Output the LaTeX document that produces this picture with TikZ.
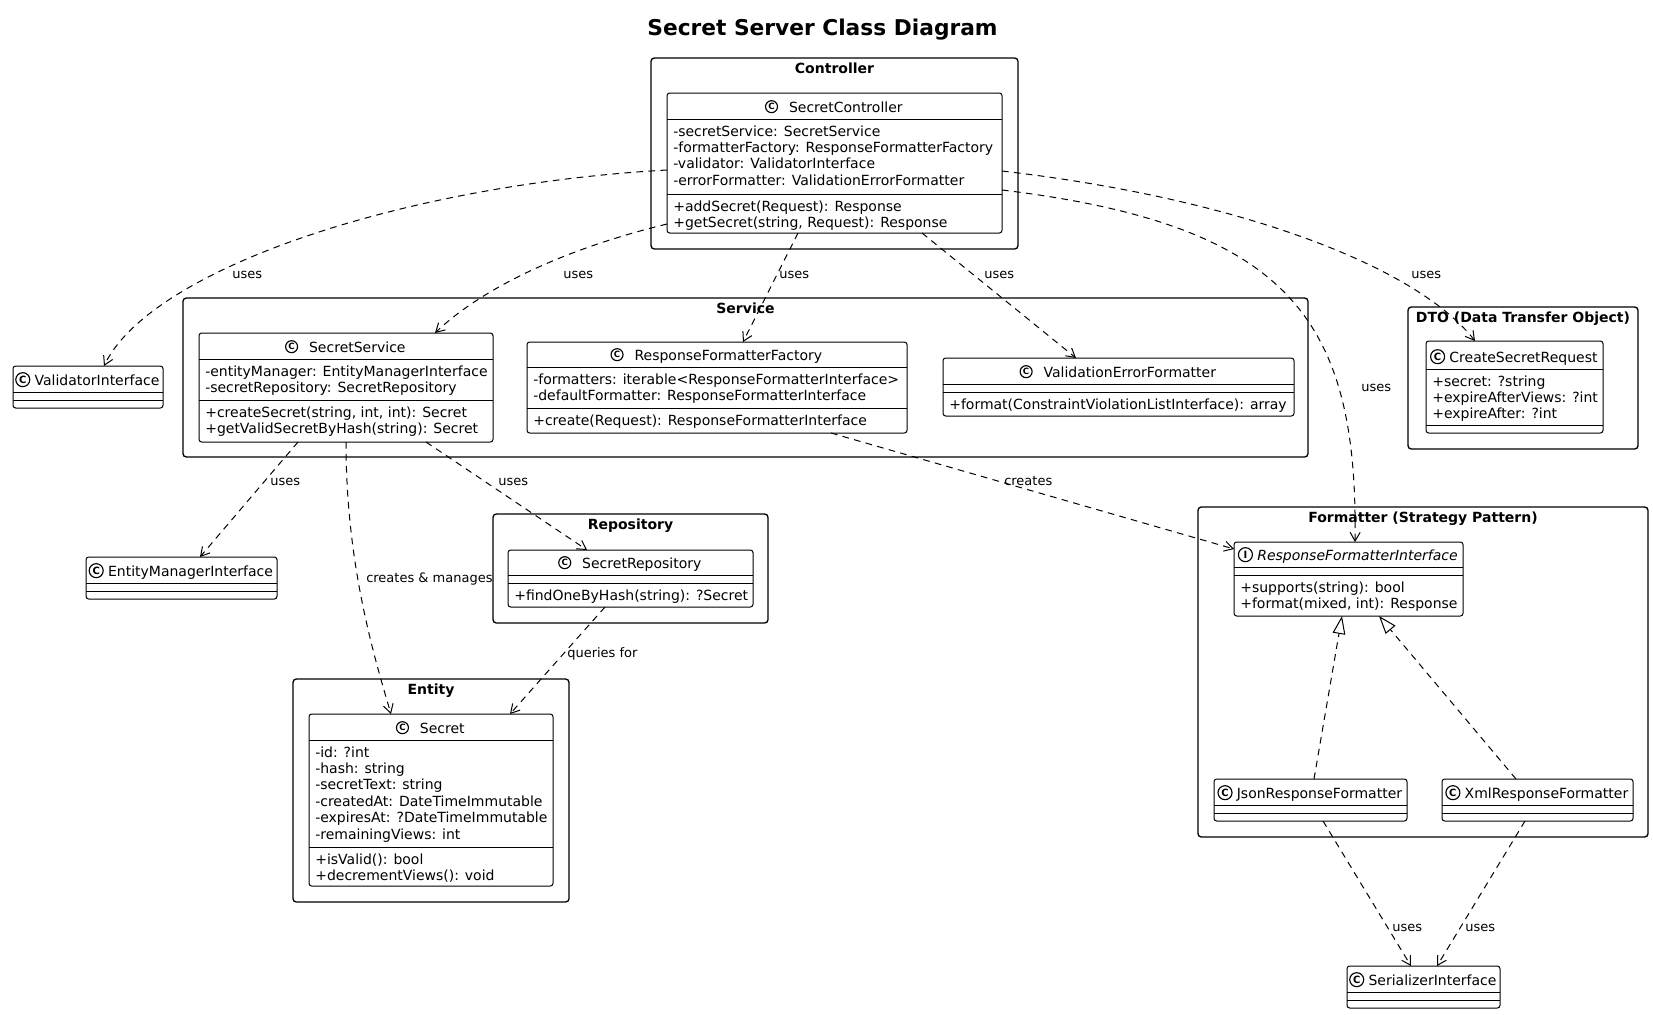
\documentclass[tikz,border=0pt]{standalone}
\usepackage{fontspec}
\setmainfont{DejaVu Sans}
\usetikzlibrary{arrows.meta,fit,positioning,calc}

\newcommand\rows[1]{\begin{tabular}[t]{@{}l@{}}#1\end{tabular}}

% icon size and gap between icon and class name
\newcommand\setsmall{\def\isz{9pt}\def\hgap{8pt}\tikzset{icon/.style={iconbase, minimum size=9pt, font=\fontsize{6.5}{6.5}\selectfont\bfseries}}}
\newcommand\setlarge{\def\isz{10.5pt}\def\hgap{3pt}\tikzset{icon/.style={iconbase, minimum size=10.5pt, font=\fontsize{7.5}{7.5}\selectfont\bfseries}}}

% class box: name, left, top, right, bottom, sep1, sep2, icon letter, title
\newcommand\uclass[9]{%
  \node[classbox, fit={(#2,#3)(#4,#5)}] (#1) {};
  \draw[sepline] (#1.west |- 0,#6) -- (#1.east |- 0,#6);
  \draw[sepline] (#1.west |- 0,#7) -- (#1.east |- 0,#7);
  \node[hdr, xshift={(\isz+\hgap)/2}] (#1-t) at ({(#2+#4)/2},{#6-7}) {#9};
  \node[icon, anchor=east, xshift=-\hgap] (#1-i) at (#1-t.west) {#8};
}

\begin{document}
\begin{tikzpicture}[x=0.75pt,y=-0.75pt,
  classbox/.style={draw, line width=0.75pt, rounded corners=2pt, fill=white, inner sep=0pt, outer sep=0pt},
  sepline/.style={line width=0.75pt},
  pkg/.style={draw, line width=1pt, rounded corners=2.5pt, fill=white, inner sep=0pt, outer sep=0pt},
  ptitle/.style={anchor=base, inner sep=0pt, font=\fontsize{10.5}{12.3}\selectfont\bfseries},
  hdr/.style={anchor=base, inner sep=0pt, text height=8pt, text depth=0pt, font=\fontsize{10.5}{12.3}\selectfont},
  iconbase/.style={circle, draw, line width=0.85pt, inner sep=0pt},
  comp/.style={anchor=base west, inner sep=0pt, font=\fontsize{10.5}{12.3}\selectfont},
  lbl/.style={anchor=base west, inner sep=0pt, font=\fontsize{9.75}{11}\selectfont},
  dep/.style={line width=0.75pt, dash pattern=on 5pt off 4pt, -{Straight Barb[length=6.5pt,width=7.5pt]}},
  real/.style={line width=0.75pt, dash pattern=on 5pt off 4pt, -{Triangle[open,length=13.5pt,width=9.5pt]}}
]
\fill[white] (0,0) rectangle (1653,1014);
\useasboundingbox (0,0) rectangle (1653,1014);

\node[anchor=base, inner sep=0pt, font=\fontsize{16.3}{18}\selectfont\bfseries] (title) at (822.5,35) {Secret Server Class Diagram};

% packages
\node[pkg, fit={(651,58)(1018,249)}] (pCtrl) {};
\node[ptitle] (pCtrl-t) at (834.5,73) {Controller};
\node[pkg, fit={(183,298)(1308,457)}] (pServ) {};
\node[ptitle] (pServ-t) at (745.5,313) {Service};
\node[pkg, fit={(493,514)(768,623)}] (pRepo) {};
\node[ptitle] (pRepo-t) at (630.5,529) {Repository};
\node[pkg, fit={(293,679)(569,902)}] (pEnt) {};
\node[ptitle] (pEnt-t) at (431,694) {Entity};
\node[pkg, fit={(1408,307)(1638,449)}] (pDto) {};
\node[ptitle] (pDto-t) at (1523,322) {DTO (Data Transfer Object)};
\node[pkg, fit={(1198,507)(1648,837)}] (pFmt) {};
\node[ptitle] (pFmt-t) at (1423,522) {Formatter (Strategy Pattern)};

% classes with room in the header
\setsmall
\uclass{sc}{667}{93}{1002}{233}{119}{194}{C}{SecretController}
\node[comp] (sc-a) at (673,136) {\rows{-secretService: SecretService\\-formatterFactory: ResponseFormatterFactory\\-validator: ValidatorInterface\\-errorFormatter: ValidationErrorFormatter}};
\node[comp] (sc-m) at (673,211) {\rows{+addSecret(Request): Response\\+getSecret(string, Request): Response}};

\uclass{ss}{199}{333}{493}{442}{359}{400}{C}{SecretService}
\node[comp] (ss-a) at (205,376) {\rows{-entityManager: EntityManagerInterface\\-secretRepository: SecretRepository}};
\node[comp] (ss-m) at (205,417) {\rows{+createSecret(string, int, int): Secret\\+getValidSecretByHash(string): Secret}};

\uclass{rff}{527}{342}{907}{433}{367}{408}{C}{ResponseFormatterFactory}
\node[comp] (rff-a) at (533,384) {\rows{-formatters: iterable<ResponseFormatterInterface>\\-defaultFormatter: ResponseFormatterInterface}};
\node[comp] (rff-m) at (533,425) {\rows{+create(Request): ResponseFormatterInterface}};

\uclass{vef}{943}{358}{1294}{416}{384}{392}{C}{ValidationErrorFormatter}
\node[comp] (vef-m) at (949,409) {\rows{+format(ConstraintViolationListInterface): array}};

\uclass{sr}{508}{550}{753}{607}{575}{583}{C}{SecretRepository}
\node[comp] (sr-m) at (514,600) {\rows{+findOneByHash(string): ?Secret}};

\uclass{secret}{309}{714}{553}{886}{740}{847}{C}{Secret}
\node[comp] (secret-a) at (315,757) {\rows{-id: ?int\\-hash: string\\-secretText: string\\-createdAt: DateTimeImmutable\\-expiresAt: ?DateTimeImmutable\\-remainingViews: int}};
\node[comp] (secret-m) at (315,864) {\rows{+isValid(): bool\\+decrementViews(): void}};

% classes with a tight header
\setlarge
\uclass{vi}{13}{366}{163}{408}{392}{400}{C}{ValidatorInterface}
\uclass{emi}{86}{557}{277}{599}{583}{591}{C}{EntityManagerInterface}

\uclass{csr}{1426}{341}{1603}{433}{369}{425}{C}{CreateSecretRequest}
\node[comp] (csr-a) at (1432,386) {\rows{+secret: ?string\\+expireAfterViews: ?int\\+expireAfter: ?int}};

\uclass{rfi}{1234}{542}{1463}{616}{567}{575}{I}{\itshape ResponseFormatterInterface}
\node[comp] (rfi-m) at (1240,592) {\rows{+supports(string): bool\\+format(mixed, int): Response}};

\uclass{json}{1214}{779}{1407}{821}{805}{813}{C}{JsonResponseFormatter}
\uclass{xml}{1442}{779}{1633}{821}{805}{813}{C}{XmlResponseFormatter}
\uclass{ser}{1347}{966}{1500}{1008}{992}{1000}{C}{SerializerInterface}

% connectors
\draw[dep] (sc.west |- 0,170) .. controls (400,185) and (150,270) .. (104,0 |- vi.north);
\draw[dep] (sc.west |- 0,224) .. controls (560,250) and (480,290) .. (435,0 |- ss.north);
\draw[dep] (798,0 |- sc.south) -- (743,0 |- rff.north);
\draw[dep] (922,0 |- sc.south) -- (1076,0 |- vef.north);
\draw[dep] (sc.east |- 0,190) .. controls (1290,225) and (1358,320) .. (1355,0 |- rfi.north);
\draw[dep] (sc.east |- 0,171) .. controls (1250,200) and (1420,270) .. (1475,0 |- csr.north);
\draw[dep] (298,0 |- ss.south) -- (200,0 |- emi.north);
\draw[dep] (426,0 |- ss.south) -- (587,0 |- sr.north);
\draw[dep] (346,0 |- ss.south) .. controls (346,560) and (372,650) .. (391,0 |- secret.north);
\draw[dep] (831,0 |- rff.south) -- (rfi.west |- 0,549);
\draw[dep] (605,0 |- sr.south) -- (510,0 |- secret.north);
\draw[real] (1314,0 |- json.north) -- (1342,0 |- rfi.south);
\draw[real] (1516,0 |- xml.north) -- (1379,0 |- rfi.south);
\draw[dep] (1323,0 |- json.south) -- (1411,0 |- ser.north);
\draw[dep] (1525,0 |- xml.south) -- (1437,0 |- ser.north);

% labels
\node[lbl] (l1) at (232,278.5) {uses};
\node[lbl] (l2) at (563,278.5) {uses};
\node[lbl] (l3) at (779,278.5) {uses};
\node[lbl] (l4) at (984,278.5) {uses};
\node[lbl] (l5) at (1411,278.5) {uses};
\node[lbl] (l6) at (1361,391.5) {uses};
\node[lbl] (l7) at (270,485.5) {uses};
\node[lbl] (l8) at (498,485.5) {uses};
\node[lbl] (l9) at (1004,485.5) {creates};
\node[lbl] (l10) at (366,582.5) {creates \& manages};
\node[lbl] (l11) at (567,657.5) {queries for};
\node[lbl] (l12) at (1392,931.5) {uses};
\node[lbl] (l13) at (1465,931.5) {uses};
\end{tikzpicture}
\end{document}
